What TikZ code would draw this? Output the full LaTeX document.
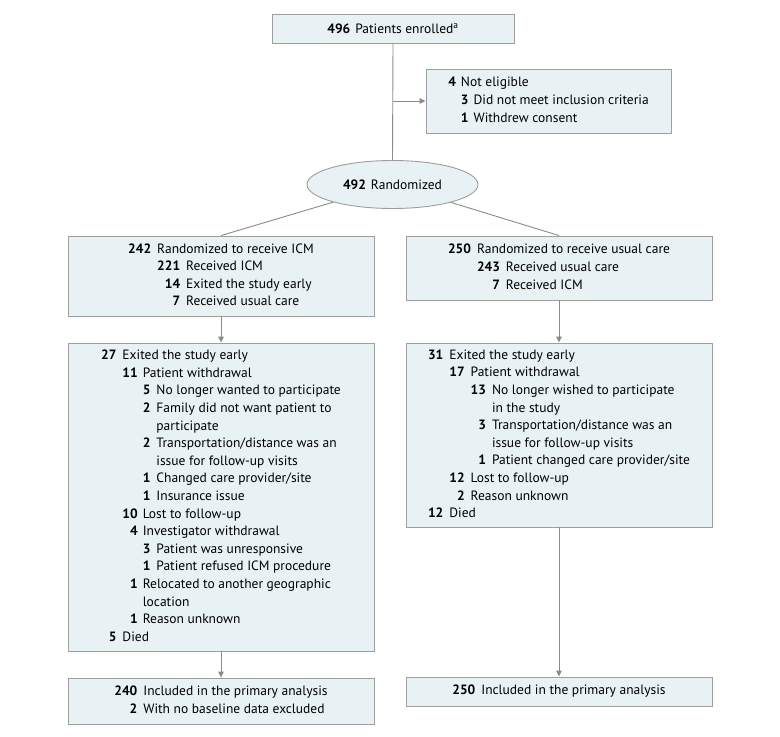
\documentclass[tikz,border=0pt]{standalone}
\usepackage{fontspec}
\setmainfont{PT Sans}
\usetikzlibrary{arrows.meta,shapes.geometric}
\definecolor{boxfill}{HTML}{E8F1F3}
\definecolor{boxline}{HTML}{9E9E9E}
\definecolor{conn}{HTML}{8A8A8A}
\newcommand{\nb}[1]{\textbf{#1}}
\newcommand{\mc}[2]{\multicolumn{#1}{l}{#2}}
\setlength{\tabcolsep}{0pt}
\begin{document}
\begin{tikzpicture}[x=1pt,y=-1pt,
  font=\fontsize{13.5}{17.6}\selectfont,
  boxstyle/.style={draw=boxline,fill=boxfill,line width=0.9pt,inner sep=0pt,rectangle},
  conline/.style={draw=conn,line width=0.9pt},
  arr/.style={conline,-{Triangle[length=6pt,width=5.5pt]}}]
\useasboundingbox (0,0) rectangle (780,737);

\node[boxstyle,minimum width=242pt,minimum height=29pt] (top) at (393,28.5)
  {\nb{496}\hspace{5pt}Patients enrolled\textsuperscript{a}};

\node[boxstyle,minimum width=245pt,minimum height=64pt] (ne) at (548.5,101)
  {\begin{tabular}{r@{\hspace{5pt}}r@{\hspace{5pt}}l}
   \nb{4} & \mc{2}{Not eligible}\\
   & \nb{3} & Did not meet inclusion criteria\\
   & \nb{1} & Withdrew consent
   \end{tabular}};

\node[ellipse,draw=boxline,fill=boxfill,line width=0.9pt,inner sep=0pt,
  minimum width=171pt,minimum height=48pt] (rand) at (392.5,184.5)
  {\nb{492}\hspace{5pt}Randomized};

\node[boxstyle,minimum width=306pt,minimum height=80pt] (icm) at (221,276)
  {\begin{tabular}{r@{\hspace{6pt}}r@{\hspace{6pt}}l}
   \nb{242} & \mc{2}{Randomized to receive ICM}\\
   & \nb{221} & Received ICM\\
   & \nb{14} & Exited the study early\\
   & \nb{7} & Received usual care
   \end{tabular}};

\node[boxstyle,minimum width=306pt,minimum height=64pt] (uc) at (559,268)
  {\begin{tabular}{r@{\hspace{6pt}}r@{\hspace{6pt}}l}
   \nb{250} & \mc{2}{Randomized to receive usual care}\\
   & \nb{243} & Received usual care\\
   & \nb{7} & Received ICM
   \end{tabular}};

\node[boxstyle,minimum width=306pt,minimum height=308pt] (lbig) at (221,497)
  {\begin{tabular}{r@{\hspace{6pt}}r@{\hspace{5pt}}r@{\hspace{6pt}}l}
   \nb{27} & \mc{3}{Exited the study early}\\
   & \nb{11} & \mc{2}{Patient withdrawal}\\
   && \nb{5} & No longer wanted to participate\\
   && \nb{2} & Family did not want patient to\\
   &&& participate\\
   && \nb{2} & Transportation/distance was an\\
   &&& issue for follow-up visits\\
   && \nb{1} & Changed care provider/site\\
   && \nb{1} & Insurance issue\\
   & \nb{10} & \mc{2}{Lost to follow-up}\\
   & \nb{4} & \mc{2}{Investigator withdrawal}\\
   && \nb{3} & Patient was unresponsive\\
   && \nb{1} & Patient refused ICM procedure\\
   & \nb{1} & \mc{2}{Relocated to another geographic}\\
   && \mc{2}{location}\\
   & \nb{1} & \mc{2}{Reason unknown}\\
   \nb{5} & \mc{3}{Died}
   \end{tabular}};

\node[boxstyle,minimum width=306pt,minimum height=184pt] (rbig) at (559,435)
  {\begin{tabular}{r@{\hspace{6pt}}r@{\hspace{6pt}}r@{\hspace{6pt}}l}
   \nb{31} & \mc{3}{Exited the study early}\\
   & \nb{17} & \mc{2}{Patient withdrawal}\\
   && \nb{13} & No longer wished to participate\\
   &&& in the study\\
   && \nb{3} & Transportation/distance was an\\
   &&& issue for follow-up visits\\
   && \nb{1} & Patient changed care provider/site\\
   & \nb{12} & \mc{2}{Lost to follow-up}\\
   & \nb{2} & \mc{2}{Reason unknown}\\
   \nb{12} & \mc{3}{Died}
   \end{tabular}};

\node[boxstyle,minimum width=306pt,minimum height=46pt] (lbot) at (221,701)
  {\begin{tabular}{r@{\hspace{6pt}}l}
   \nb{240} & Included in the primary analysis\\
   \nb{2} & With no baseline data excluded
   \end{tabular}};

\node[boxstyle,minimum width=306pt,minimum height=29pt] (rbot) at (559,691.5)
  {\nb{250}\hspace{6pt}Included in the primary analysis};

\draw[conline] (top.south) -- (rand.north);
\draw[arr] (top.south |- ne.west) -- (ne.west);
\draw[conline] (rand) -- (icm.north);
\draw[conline] (rand) -- (uc.north);
\draw[arr] (icm.south) -- (lbig.north);
\draw[arr] (uc.south) -- (rbig.north);
\draw[arr] (lbig.south) -- (lbot.north);
\draw[arr] (rbig.south) -- (rbot.north);
\end{tikzpicture}
\end{document}
